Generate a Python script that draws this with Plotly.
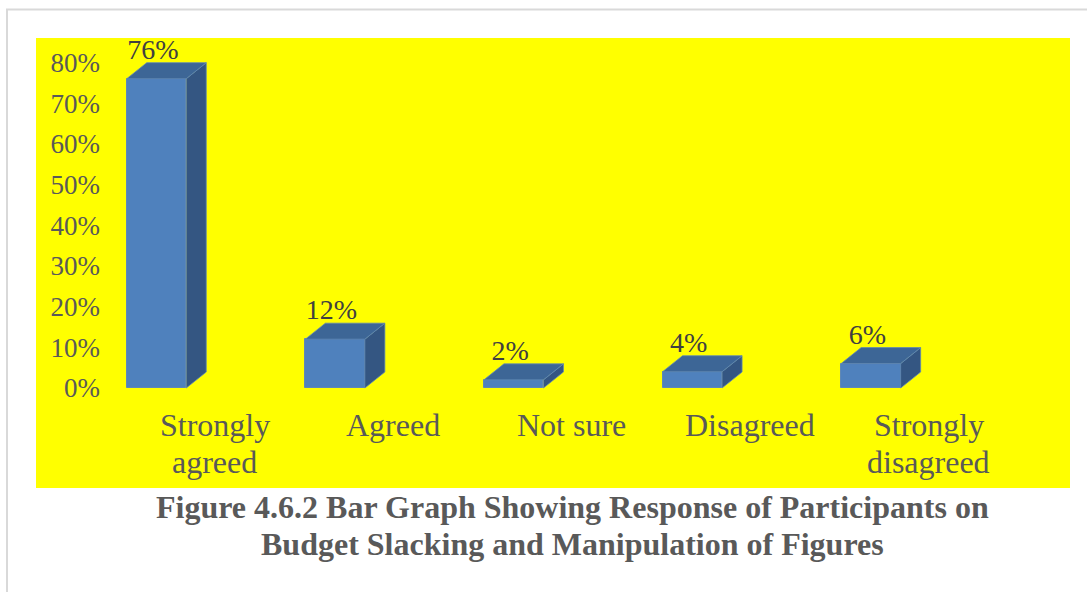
import plotly.graph_objects as go

# Survey responses (percent of participants)
categories = ["Strongly<br>agreed", "Agreed", "Not sure", "Disagreed", "Strongly<br>disagreed"]
values = [76, 12, 2, 4, 6]
value_labels = ["76%", "12%", "2%", "4%", "6%"]
y_ticks = [0, 10, 20, 30, 40, 50, 60, 70, 80]
y_tick_text = ["0%", "10%", "20%", "30%", "40%", "50%", "60%", "70%", "80%"]
caption_lines = [
    "Figure 4.6.2 Bar Graph Showing Response of Participants on",
    "Budget Slacking and Manipulation of Figures",
]

SERIF = "Liberation Serif"
W, H = 1087, 592
L, R, T, B = 101, 17, 38, 192
plot_w = W - L - R
plot_h = H - T - B

# axis geometry: ~178.6 px per category, ~4.07 px per percentage point
px_per_cat = 178.6
px_per_pct = 4.07
x_min = -(156.5 - L) / px_per_cat
x_max = x_min + plot_w / px_per_cat
y_min = -(T + plot_h - 388) / px_per_pct
y_max = y_min + plot_h / px_per_pct

bar_w = 59.5 / px_per_cat          # front face width
depth_x = 20 / px_per_cat          # 3D depth offset (horizontal)
depth_y = 16 / px_per_pct          # 3D depth offset (vertical)
label_shift = 58 / px_per_cat      # category labels sit toward the back wall
label_drop = 3 / px_per_pct        # value labels hug the bar tops

FRONT = "#4F81BD"
SIDE = "#345682"
TOP = "#3D6696"
EDGE = "#6088b4"

fig = go.Figure()

xs = list(range(len(values)))
fig.add_trace(go.Bar(
    x=xs, y=values, width=bar_w, marker=dict(color=FRONT, line=dict(color=EDGE, width=1)),
    hoverinfo="skip", showlegend=False,
))

for i, v in zip(xs, values):
    xl, xr = i - bar_w / 2, i + bar_w / 2
    # right side face
    fig.add_trace(go.Scatter(
        x=[xr, xr + depth_x, xr + depth_x, xr, xr],
        y=[0, depth_y, v + depth_y, v, 0],
        fill="toself", fillcolor=SIDE, mode="lines",
        line=dict(color=EDGE, width=0.8), hoverinfo="skip", showlegend=False,
    ))
    # top face
    fig.add_trace(go.Scatter(
        x=[xl, xr, xr + depth_x, xl + depth_x, xl],
        y=[v, v, v + depth_y, v + depth_y, v],
        fill="toself", fillcolor=TOP, mode="lines",
        line=dict(color=EDGE, width=0.8), hoverinfo="skip", showlegend=False,
    ))

# value labels above each bar
fig.add_trace(go.Scatter(
    x=[i - 0.02 for i in xs], y=[v + depth_y - label_drop for v in values], text=value_labels,
    mode="text", textposition="top center",
    textfont=dict(family=SERIF, size=28, color="#404040"),
    hoverinfo="skip", showlegend=False,
))


def px_to_paper_x(px):
    return (px - L) / plot_w


def px_to_paper_y(py):
    return (H - B - py) / plot_h


shapes = [
    # yellow chart area
    dict(type="rect", xref="paper", yref="paper", layer="below",
         x0=px_to_paper_x(36), x1=px_to_paper_x(1070),
         y0=px_to_paper_y(488), y1=px_to_paper_y(38),
         fillcolor="#FFFF00", line=dict(width=0)),
    # page frame (left and top rules)
    dict(type="line", xref="paper", yref="paper",
         x0=px_to_paper_x(7), x1=px_to_paper_x(7),
         y0=px_to_paper_y(600), y1=px_to_paper_y(9.5),
         line=dict(color="#d9d9d9", width=2)),
    dict(type="line", xref="paper", yref="paper",
         x0=px_to_paper_x(6), x1=px_to_paper_x(1100),
         y0=px_to_paper_y(9.5), y1=px_to_paper_y(9.5),
         line=dict(color="#d9d9d9", width=2)),
]

annotations = []
# category labels, one annotation per text line for tight line spacing
for i, cat in enumerate(categories):
    for j, part in enumerate(cat.split("<br>")):
        annotations.append(dict(
            text=part, xref="x", yref="paper",
            x=i + label_shift, y=px_to_paper_y(425 + 37 * j),
            xanchor="center", yanchor="middle", showarrow=False,
            font=dict(family=SERIF, size=32, color="#595959"),
        ))

for line_text, cy in zip(caption_lines, [507, 544]):
    annotations.append(dict(
        text=f"<b>{line_text}</b>", xref="paper", yref="paper",
        x=px_to_paper_x(572), y=px_to_paper_y(cy), xanchor="center", yanchor="middle",
        showarrow=False, font=dict(family=SERIF, size=32, color="#595959"),
    ))

fig.update_layout(
    width=W, height=H,
    margin=dict(l=L, r=R, t=T, b=B, pad=0),
    paper_bgcolor="white", plot_bgcolor="rgba(0,0,0,0)",
    shapes=shapes, annotations=annotations,
    bargap=0,
    xaxis=dict(
        range=[x_min, x_max], showgrid=False, zeroline=False, showline=False,
        showticklabels=False, ticks="", fixedrange=True,
    ),
    yaxis=dict(
        range=[y_min, y_max], showgrid=False, zeroline=False, showline=False,
        tickmode="array", tickvals=y_ticks, ticktext=y_tick_text,
        ticks="", tickfont=dict(family=SERIF, size=27, color="#595959"),
        fixedrange=True,
    ),
)

fig.write_html("out.html")
